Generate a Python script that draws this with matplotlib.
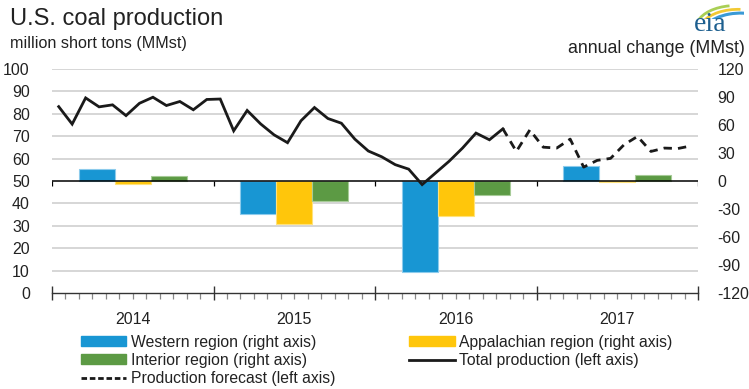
import numpy as np
import matplotlib.pyplot as plt
from matplotlib.patches import Patch, Arc
from matplotlib.lines import Line2D
import matplotlib.transforms as mtransforms

plt.rcParams['font.family'] = ['Liberation Sans', 'DejaVu Sans']
plt.rcParams['axes.unicode_minus'] = False

# monthly total production, Jan 2014 - Sep 2016 (MMst)
total = [83.2, 75.4, 87.1, 83.1, 84.0, 79.2, 84.7, 87.4, 83.7, 85.5, 81.8, 86.4,
         86.6, 72.4, 81.5, 75.5, 70.6, 67.1, 76.9, 82.8, 77.9, 75.8, 68.7, 63.4,
         60.8, 57.3, 55.3, 48.4, 53.6, 58.8, 64.7, 71.4, 68.4, 73.3]
# forecast, Oct 2016 - Dec 2017 (starts from last actual month)
forecast = [73.3, 63.2, 72.8, 65.1, 64.7, 68.7, 56.2, 59.2, 60.1, 66.2, 69.9,
            63.2, 64.7, 64.5, 65.7]

years = ['2014', '2015', '2016', '2017']
western = [12.8, -35.3, -97.6, 16.4]
appalachian = [-2.8, -46.3, -37.0, -1.4]
interior = [5.7, -21.0, -15.0, 6.4]

c_west = '#1896d3'
c_app = '#ffc60b'
c_int = '#5c9a44'

fig = plt.figure(figsize=(7.49, 3.89), dpi=100)
ax = fig.add_axes([0.0694, 0.2468, 0.8626, 0.5758])
ax2 = ax.twinx()

ax.set_xlim(0, 48)
ax.set_ylim(0, 100)
ax2.set_ylim(-120, 120)

# grid on the left scale
for v in range(10, 101, 10):
    if v != 50:
        ax.axhline(v, color='#d3d3d3', lw=1.3, zorder=0)

# annual change bars (right axis)
w = 2.67
for i in range(len(years)):
    c = 12 * i + 6
    ax2.bar(c - w, western[i], width=w, color=c_west, edgecolor='#8ccbec', lw=0.8, zorder=2)
    ax2.bar(c, appalachian[i], width=w, color=c_app, edgecolor='#ffe27a', lw=0.8, zorder=2)
    ax2.bar(c + w, interior[i], width=w, color=c_int, edgecolor='#a6cb97', lw=0.8, zorder=2)

# zero line with year ticks
ax2.axhline(0, color='black', lw=1.1, zorder=3)
yr_edges = np.arange(0, 49, 12)
ax2.vlines(yr_edges, -5.5, 0, color='black', lw=0.9, zorder=3)

# production lines drawn on top of bars, in left-axis units
x_tot = np.arange(len(total)) + 0.5
x_fc = np.arange(len(total) - 1, len(total) - 1 + len(forecast)) + 0.5
ax2.plot(x_tot, total, color='#1a1a1a', lw=2.0, transform=ax.transData, zorder=4,
         solid_joinstyle='miter')
ax2.plot(x_fc, forecast, color='#1a1a1a', lw=2.0, ls=(0, (3, 2.2)), transform=ax.transData,
         zorder=4)

for a in (ax, ax2):
    for s in a.spines.values():
        s.set_visible(False)

ax.spines['bottom'].set_visible(True)
ax.spines['bottom'].set_color('#333333')
ax.spines['bottom'].set_linewidth(1.0)

ax.set_xticks(yr_edges)
ax.set_xticks(np.arange(0, 49), minor=True)
ax.tick_params(axis='x', which='major', direction='inout', length=10, width=1.0,
               color='#333333', labelbottom=False)
ax.tick_params(axis='x', which='minor', direction='out', length=4, width=0.9,
               color='#888888')

ax.set_yticks(range(0, 101, 10))
ax.tick_params(axis='y', length=0, pad=16, labelsize=11.5, labelcolor='#222222')
ax2.set_yticks(range(-120, 121, 30))
ax2.tick_params(axis='y', length=0, pad=14, labelsize=11.5, labelcolor='#222222')

trans = mtransforms.blended_transform_factory(ax.transData, ax.transAxes)
for i, yr in enumerate(years):
    ax.text(12 * i + 6, -0.12, yr, transform=trans, ha='center', va='center',
            fontsize=11.5, color='#222222')

fig.text(0.013, 0.952, 'U.S. coal production', fontsize=17, color='#222222', va='center')
fig.text(0.013, 0.887, 'million short tons (MMst)', fontsize=11.6, color='#222222', va='center')
fig.text(0.995, 0.876, 'annual change (MMst)', fontsize=12.8, color='#222222', va='center',
         ha='right')

# eia logo
fig.text(0.948, 0.936, 'eia', fontsize=20, family='Liberation Serif', color='#1d5f8f',
         ha='center', va='center')
logo = fig.add_axes([0.918, 0.952, 0.075, 0.048])
logo.set_xlim(0, 1)
logo.set_ylim(0, 1)
logo.axis('off')
logo.add_patch(Arc((0.85, -0.5), 1.4, 2.4, theta1=95, theta2=150, color='#a9cf55', lw=2))
logo.add_patch(Arc((0.9, -0.7), 1.4, 2.4, theta1=88, theta2=140, color='#f2c933', lw=2))
logo.add_patch(Arc((0.95, -0.9), 1.4, 2.4, theta1=75, theta2=135, color='#3a9ad6', lw=2.2))

handles = [Patch(color=c_west), Patch(color=c_int),
           Line2D([], [], color='#1a1a1a', lw=2, ls=(0, (2, 1))),
           Patch(color=c_app), Line2D([], [], color='#1a1a1a', lw=2)]
labels = ['Western region (right axis)', 'Interior region (right axis)',
          'Production forecast (left axis)', 'Appalachian region (right axis)',
          'Total production (left axis)']
fig.legend(handles, labels, ncol=2, loc='upper left', bbox_to_anchor=(0.108, 0.14),
           frameon=False, fontsize=11.3, handlelength=2.9, handleheight=0.6,
           handletextpad=0.3, columnspacing=4.7, labelspacing=0.22, borderpad=0,
           borderaxespad=0, labelcolor='#222222')

fig.savefig('out.png', dpi=100)
